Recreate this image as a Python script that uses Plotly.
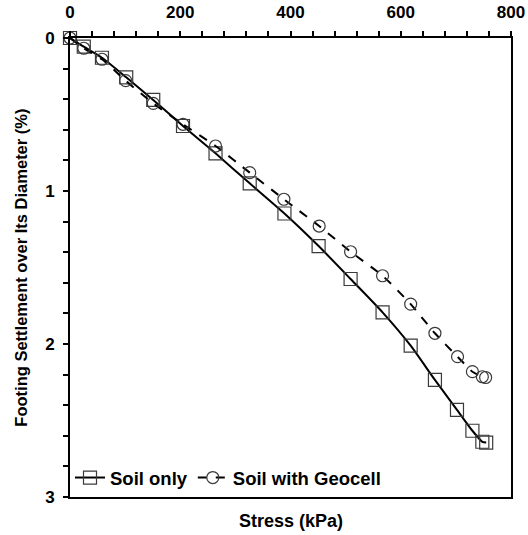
import plotly.graph_objects as go

# Applied stress (kPa) and footing settlement ratio (%)
stress_soil = [0, 25, 58, 102, 151, 205, 264, 326, 389, 451, 509, 567, 618, 662, 702, 730, 748, 755]
settle_soil = [0.00, 0.057, 0.129, 0.257, 0.405, 0.575, 0.754, 0.95, 1.147, 1.36, 1.575,
               1.793, 2.011, 2.235, 2.43, 2.567, 2.639, 2.644]

stress_geo = [0, 25, 58, 101, 151, 205, 264, 326, 388, 452, 509, 567, 618, 662, 703, 730, 748, 754]
settle_geo = [0.00, 0.067, 0.139, 0.279, 0.427, 0.564, 0.706, 0.88, 1.054, 1.229, 1.397,
              1.554, 1.739, 1.93, 2.083, 2.181, 2.214, 2.219]

x_ticks = [0, 200, 400, 600, 800]
y_ticks = [0, 1, 2, 3]

FONT = "Liberation Sans, Arial, sans-serif"
MARK = "#3a3a3a"

fig = go.Figure()
fig.add_trace(go.Scatter(
    x=stress_soil, y=settle_soil, name="Soil only", mode="lines+markers",
    line=dict(color="black", width=2, shape="spline", smoothing=0.6),
    marker=dict(symbol="square-open", size=13, color=MARK, line=dict(width=1.2, color=MARK)),
    cliponaxis=False,
))
fig.add_trace(go.Scatter(
    x=stress_geo, y=settle_geo, name="Soil with Geocell", mode="lines+markers",
    line=dict(color="black", width=2, dash="dash", shape="spline", smoothing=0.6),
    marker=dict(symbol="circle-open", size=12, color=MARK, line=dict(width=1.2, color=MARK)),
    cliponaxis=False,
))

fig.update_layout(
    width=528, height=535,
    margin=dict(l=70, r=17, t=38, b=38, autoexpand=False),
    paper_bgcolor="white", plot_bgcolor="white",
    font=dict(family=FONT, color="black"),
    showlegend=True,
    legend=dict(orientation="h", x=0.0, y=0.0, xanchor="left", yanchor="bottom",
                bgcolor="rgba(0,0,0,0)", font=dict(size=18.5, family=FONT, weight="bold"),
                itemwidth=30, tracegroupgap=0),
    annotations=[
        dict(text="<b>Stress (kPa)</b>", xref="paper", yref="paper", x=0.5, y=-0.052,
             xanchor="center", yanchor="middle", showarrow=False,
             font=dict(size=18, family=FONT)),
        dict(text="<b>Footing Settlement over Its Diameter (%)</b>", xref="paper", yref="paper",
             x=-0.113, y=0.5, xanchor="center", yanchor="middle", textangle=-90,
             showarrow=False, font=dict(size=16.5, family=FONT)),
    ],
)

fig.update_xaxes(
    side="top", range=[0, 800], tickvals=x_ticks, ticks="outside", ticklen=5, tickwidth=1.5,
    tickcolor="black", showline=True, linewidth=2, linecolor="black", mirror=True,
    showgrid=False, zeroline=False, ticklabelstandoff=6, automargin=False,
    tickfont=dict(size=17, family=FONT, weight="bold"),
    minor=dict(dtick=40, ticks="outside", ticklen=5, tickwidth=1.5, tickcolor="black", showgrid=False),
)
fig.update_yaxes(
    range=[3, 0], tickvals=y_ticks, ticks="outside", ticklen=5, tickwidth=1.5,
    tickcolor="black", showline=True, linewidth=2, linecolor="black", mirror=True,
    showgrid=False, zeroline=False, ticklabelstandoff=5, automargin=False,
    tickfont=dict(size=17, family=FONT, weight="bold"),
    minor=dict(dtick=0.2, ticks="outside", ticklen=5, tickwidth=1.5, tickcolor="black", showgrid=False),
)

fig.write_html("out.html")
